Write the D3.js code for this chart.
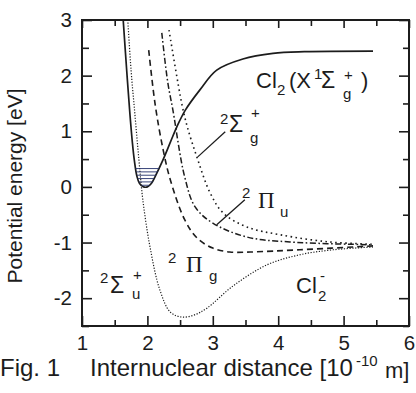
<!DOCTYPE html>
<html>
<head>
<meta charset="utf-8">
<script src="https://cdn.jsdelivr.net/npm/d3@7"></script>
<style>
  body { margin: 0; background: #fff; }
  svg { display: block; font-family: "Liberation Sans", Arial, sans-serif; }
</style>
</head>
<body>
<div id="chart"></div>
<script>
// potential curves: [r (1e-10 m), E (eV)]
const cl2X = [[1.63,3.0],[1.68,2.15],[1.73,1.35],[1.77,0.80],[1.80,0.48],[1.84,0.19],[1.88,0.06],[1.94,0.0],
              [2.00,0.0],[2.06,0.06],[2.12,0.19],[2.24,0.49],[2.35,0.80],[2.45,1.08],[2.58,1.38],[2.80,1.74],
              [3.06,2.10],[3.46,2.30],[3.92,2.40],[4.40,2.43],[5.45,2.44]];
const sigmaU = [[1.70,3.0],[1.75,2.10],[1.81,1.29],[1.87,0.49],[1.93,-0.23],[2.04,-1.08],[2.19,-1.85],
                [2.35,-2.25],[2.53,-2.34],[2.72,-2.30],[2.91,-2.18],[3.31,-1.78],[3.83,-1.40],[4.33,-1.22],
                [4.84,-1.13],[5.45,-1.08]];
const piG = [[2.02,2.46],[2.12,1.47],[2.24,0.67],[2.35,0.13],[2.57,-0.59],[2.76,-0.92],[3.0,-1.10],
             [3.26,-1.17],[3.57,-1.17],[4.33,-1.13],[5.45,-1.06]];
const piU = [[2.22,2.77],[2.31,1.89],[2.39,1.38],[2.57,0.18],[2.73,-0.36],[3.0,-0.65],[3.52,-0.90],
             [4.18,-0.99],[5.45,-1.04]];
const sigmaG = [[2.33,2.82],[2.53,1.47],[2.61,1.08],[2.77,0.49],[2.96,-0.11],[3.16,-0.47],[3.52,-0.72],
                [4.03,-0.86],[4.79,-0.99],[5.45,-1.03]];

// vibrational levels of Cl2 in the well
const vibE     = [0.03, 0.09, 0.15, 0.21, 0.27, 0.33];
const vibLeft  = [1.91, 1.87, 1.855, 1.84, 1.83, 1.82];
const vibRight = [2.03, 2.08, 2.10, 2.13, 2.16, 2.18];

// leader lines for labels [[r1,E1],[r2,E2]]
const leaderSigmaG = [[3.19,0.99],[2.77,0.54]];
const leaderPiU = [[3.49,-0.23],[3.06,-0.68]];

const xTicks = [1, 2, 3, 4, 5, 6];
const yTicks = [-2, -1, 0, 1, 2, 3];
const xMinor = [1.5, 2.5, 3.5, 4.5, 5.5];
const yMinor = [-2.5, -1.5, -0.5, 0.5, 1.5, 2.5];

const W = 416, H = 393;
const margin = { top: 20, right: 7, bottom: 67, left: 82 },
      width = W - margin.left - margin.right,
      height = H - margin.top - margin.bottom;

const svgRoot = d3.select("#chart").append("svg")
    .attr("width", W).attr("height", H);

const svg = svgRoot.append("g")
    .attr("transform", `translate(${margin.left},${margin.top})`);

const x = d3.scaleLinear().domain([1, 6]).range([0, width]);
const y = d3.scaleLinear().domain([-2.5, 3]).range([height, 0]);

svg.append("clipPath").attr("id", "plot")
  .append("rect").attr("width", width).attr("height", height);

const ink = "#1c1c1c";

// axes: inward ticks on all four sides
function styleAxis(g) {
    g.select(".domain").remove();
    g.selectAll(".tick line").attr("stroke", ink).attr("stroke-width", 1.6);
    g.selectAll(".tick text").attr("fill", ink).attr("font-size", "20.5px")
        .attr("font-family", "Liberation Sans, Arial, sans-serif");
}

svg.append("g").attr("transform", `translate(0,${height})`)
    .call(d3.axisBottom(x).tickValues(xTicks).tickFormat(d3.format("d")).tickSizeInner(-10).tickSizeOuter(0).tickPadding(9))
    .call(styleAxis);
svg.append("g").attr("transform", `translate(0,${height})`)
    .call(d3.axisBottom(x).tickValues(xMinor).tickFormat("").tickSizeInner(-6).tickSizeOuter(0))
    .call(styleAxis);
svg.append("g")
    .call(d3.axisTop(x).tickValues(xTicks).tickFormat("").tickSizeInner(-8).tickSizeOuter(0))
    .call(styleAxis);
svg.append("g")
    .call(d3.axisTop(x).tickValues(xMinor).tickFormat("").tickSizeInner(-6).tickSizeOuter(0))
    .call(styleAxis);

svg.append("g")
    .call(d3.axisLeft(y).tickValues(yTicks).tickFormat(d3.format("d")).tickSizeInner(-10).tickSizeOuter(0).tickPadding(10))
    .call(styleAxis);
svg.append("g")
    .call(d3.axisLeft(y).tickValues(yMinor).tickFormat("").tickSizeInner(-7).tickSizeOuter(0))
    .call(styleAxis);
svg.append("g").attr("transform", `translate(${width},0)`)
    .call(d3.axisRight(y).tickValues(yTicks).tickFormat("").tickSizeInner(-10).tickSizeOuter(0))
    .call(styleAxis);
svg.append("g").attr("transform", `translate(${width},0)`)
    .call(d3.axisRight(y).tickValues(yMinor).tickFormat("").tickSizeInner(-6).tickSizeOuter(0))
    .call(styleAxis);

// plain hyphen for negatives, like the figure
svg.selectAll(".tick text").text(function() { return this.textContent.replace("\u2212", "-"); });

svg.append("rect")
    .attr("width", width).attr("height", height)
    .attr("fill", "none").attr("stroke", ink).attr("stroke-width", 2);

// curves
const line = d3.line()
    .x(d => x(d[0])).y(d => y(d[1]))
    .curve(d3.curveCatmullRom.alpha(0.5));

const curves = svg.append("g").attr("clip-path", "url(#plot)");

const styles = [
    { data: cl2X,   dash: null,              w: 1.7 },
    { data: sigmaU, dash: "1.2,1.6",         w: 1.2 },
    { data: piG,    dash: "6,4",             w: 1.6 },
    { data: piU,    dash: "6,2.5,1.6,2.5",   w: 1.5 },
    { data: sigmaG, dash: "1.6,3.4",         w: 1.6 }
];

styles.forEach(s => {
    curves.append("path")
        .datum(s.data)
        .attr("fill", "none")
        .attr("stroke", ink)
        .attr("stroke-width", s.w)
        .attr("stroke-dasharray", s.dash)
        .attr("d", line);
});

// vibrational levels
curves.selectAll(".vib")
    .data(vibE)
    .enter().append("line")
    .attr("class", "vib")
    .attr("x1", (d, i) => x(vibLeft[i]))
    .attr("x2", (d, i) => x(vibRight[i]))
    .attr("y1", d => y(d)).attr("y2", d => y(d))
    .attr("stroke", "#23306a").attr("stroke-width", 0.9);

// leader lines
[leaderSigmaG, leaderPiU].forEach(l => {
    svg.append("line")
        .attr("x1", x(l[0][0])).attr("y1", y(l[0][1]))
        .attr("x2", x(l[1][0])).attr("y2", y(l[1][1]))
        .attr("stroke", ink).attr("stroke-width", 1.3);
});

// text helper on the full-size svg
function txt(px, py, str, size, family) {
    return svgRoot.append("text")
        .attr("x", px).attr("y", py)
        .attr("font-size", size + "px")
        .attr("font-family", family || "Liberation Sans, Arial, sans-serif")
        .attr("fill", ink)
        .text(str);
}
const serif = "Liberation Serif, Times New Roman, serif";

// Cl2 (X 1Σg+)
txt(256, 88, "Cl", 22);
txt(277, 95, "2", 15);
txt(289, 88, "(X", 22);
txt(314, 79, "1", 15);
txt(321, 88, "\u03A3", 23);
txt(343, 99, "g", 15);
txt(344, 80, "+", 15);
txt(361, 88, ")", 22);

// 2Σg+
txt(220, 124, "2", 15);
txt(229, 132, "\u03A3", 23);
txt(250, 143, "g", 15);
txt(251, 118, "+", 15);

// 2Πu
txt(242, 198, "2", 15);
txt(258, 208, "\u03A0", 23, serif);
txt(280, 217, "u", 15);

// 2Πg
txt(168, 263, "2", 15);
txt(186, 272, "\u03A0", 23, serif);
txt(209, 281, "g", 15);

// 2Σu+
txt(100, 283, "2", 15);
txt(110, 293, "\u03A3", 23);
txt(132, 299, "u", 15);
txt(133, 280, "+", 15);

// Cl2-
txt(296, 293, "Cl", 22);
txt(318, 301, "2", 15);
txt(320, 281, "-", 15);

// axis titles
svgRoot.append("text")
    .attr("transform", "translate(22,186) rotate(-90)")
    .attr("text-anchor", "middle")
    .attr("font-size", "21px")
    .attr("fill", ink)
    .text("Potential energy [eV]");

txt(0, 376, "Fig. 1", 24);
txt(90, 376, "Internuclear distance [10", 24);
txt(356, 366, "-10", 15);
txt(385, 378, "m]", 22);
</script>
</body>
</html>
